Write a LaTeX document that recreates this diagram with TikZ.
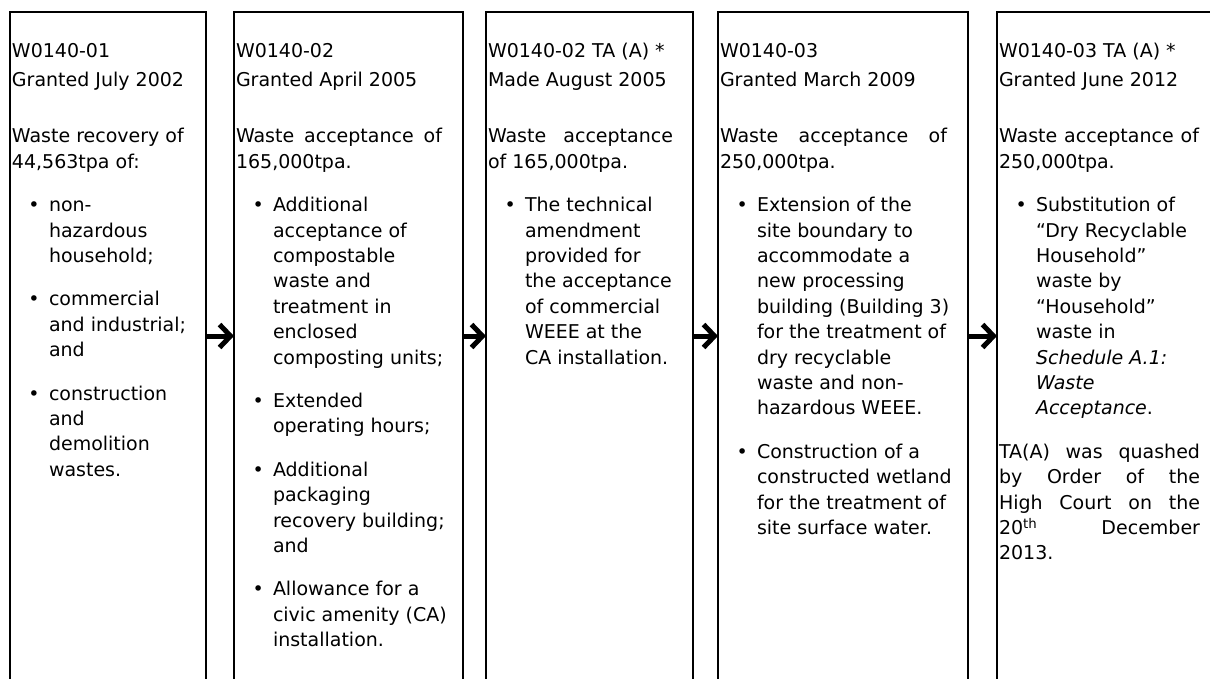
\documentclass[tikz,border=0pt]{standalone}
\usepackage{fontspec}
\setmainfont{DejaVu Sans}
\usetikzlibrary{arrows.meta}
\newcommand\bul{\makebox[37pt][l]{\hspace{16.5pt}\textbullet}}
\newcommand\ind{\hspace*{37pt}}
\newcommand\just[2]{\makebox[#1][s]{#2}}
\begin{document}
\begin{tikzpicture}[x=1pt,y=-1pt,
  boxst/.style={draw=black, line width=1.5pt, rectangle, inner sep=0pt, outer sep=0pt, anchor=north west, minimum height=700pt},
  txt/.style={anchor=north west, inner sep=0pt, outer sep=0pt, align=left, font=\fontsize{19}{25.4}\selectfont},
  arr/.style={line width=5pt, -{Straight Barb[length=11pt,width=23pt]}}]
\clip (0,0) rectangle (1210,678);
\fill[white] (0,0) rectangle (1210,678);
\node[boxst, minimum width=196pt] (box1) at (10,12) {};
\node[boxst, minimum width=229pt] (box2) at (234,12) {};
\node[boxst, minimum width=207pt] (box3) at (486,12) {};
\node[boxst, minimum width=250pt] (box4) at (718,12) {};
\node[boxst, minimum width=240pt] (box5) at (997,12) {};
\draw[arr] (box1.east |- 0,336) -- (box2.west |- 0,336);
\draw[arr] (box2.east |- 0,336) -- (box3.west |- 0,336);
\draw[arr] (box3.east |- 0,336) -- (box4.west |- 0,336);
\draw[arr] (box4.east |- 0,336) -- (box5.west |- 0,336);
\node[txt] (t1) at (12,40.2) {\strut W0140-01\\[3.6pt]
Granted July 2002\\[30.6pt]
Waste recovery of\\
44,563tpa of:\\[18pt]
\bul non-\\ \ind hazardous\\ \ind household;\\[18pt]
\bul commercial\\ \ind and industrial;\\ \ind and\\[18pt]
\bul construction\\ \ind and\\ \ind demolition\\ \ind wastes.};
\node[txt] (t2) at (236,40.2) {\strut W0140-02\\[3.6pt]
Granted April 2005\\[30.6pt]
\just{206pt}{Waste acceptance of}\\
165,000tpa.\\[18pt]
\bul Additional\\ \ind acceptance of\\ \ind compostable\\ \ind waste and\\ \ind treatment in\\ \ind enclosed\\ \ind composting units;\\[18pt]
\bul Extended\\ \ind operating hours;\\[18pt]
\bul Additional\\ \ind packaging\\ \ind recovery building;\\ \ind and\\[18pt]
\bul Allowance for a\\ \ind civic amenity (CA)\\ \ind installation.};
\node[txt] (t3) at (488,40.2) {\strut W0140-02 TA (A) *\\[3.6pt]
Made August 2005\\[30.6pt]
\just{185pt}{Waste acceptance}\\
of 165,000tpa.\\[18pt]
\bul The technical\\ \ind amendment\\ \ind provided for\\ \ind the acceptance\\ \ind of commercial\\ \ind WEEE at the\\ \ind CA installation.};
\node[txt] (t4) at (720,40.2) {\strut W0140-03\\[3.6pt]
Granted March 2009\\[30.6pt]
\just{227pt}{Waste acceptance of}\\
250,000tpa.\\[18pt]
\bul Extension of the\\ \ind site boundary to\\ \ind accommodate a\\ \ind new processing\\ \ind building (Building 3)\\ \ind for the treatment of\\ \ind dry recyclable\\ \ind waste and non-\\ \ind hazardous WEEE.\\[18pt]
\bul Construction of a\\ \ind constructed wetland\\ \ind for the treatment of\\ \ind site surface water.};
\node[txt] (t5) at (999,40.2) {\strut W0140-03 TA (A) *\\[3.6pt]
Granted June 2012\\[30.6pt]
\just{200pt}{Waste acceptance of}\\
250,000tpa.\\[18pt]
\bul Substitution of\\ \ind “Dry Recyclable\\ \ind Household”\\ \ind waste by\\ \ind “Household”\\ \ind waste in\\ \ind \textit{Schedule A.1:}\\ \ind \textit{Waste}\\ \ind \textit{Acceptance}.\\[18pt]
\just{201pt}{TA(A) was quashed}\\
\just{201pt}{by Order of the}\\
\just{201pt}{High Court on the}\\
\just{201pt}{20\textsuperscript{th} December}\\
2013.};
\end{tikzpicture}
\end{document}
